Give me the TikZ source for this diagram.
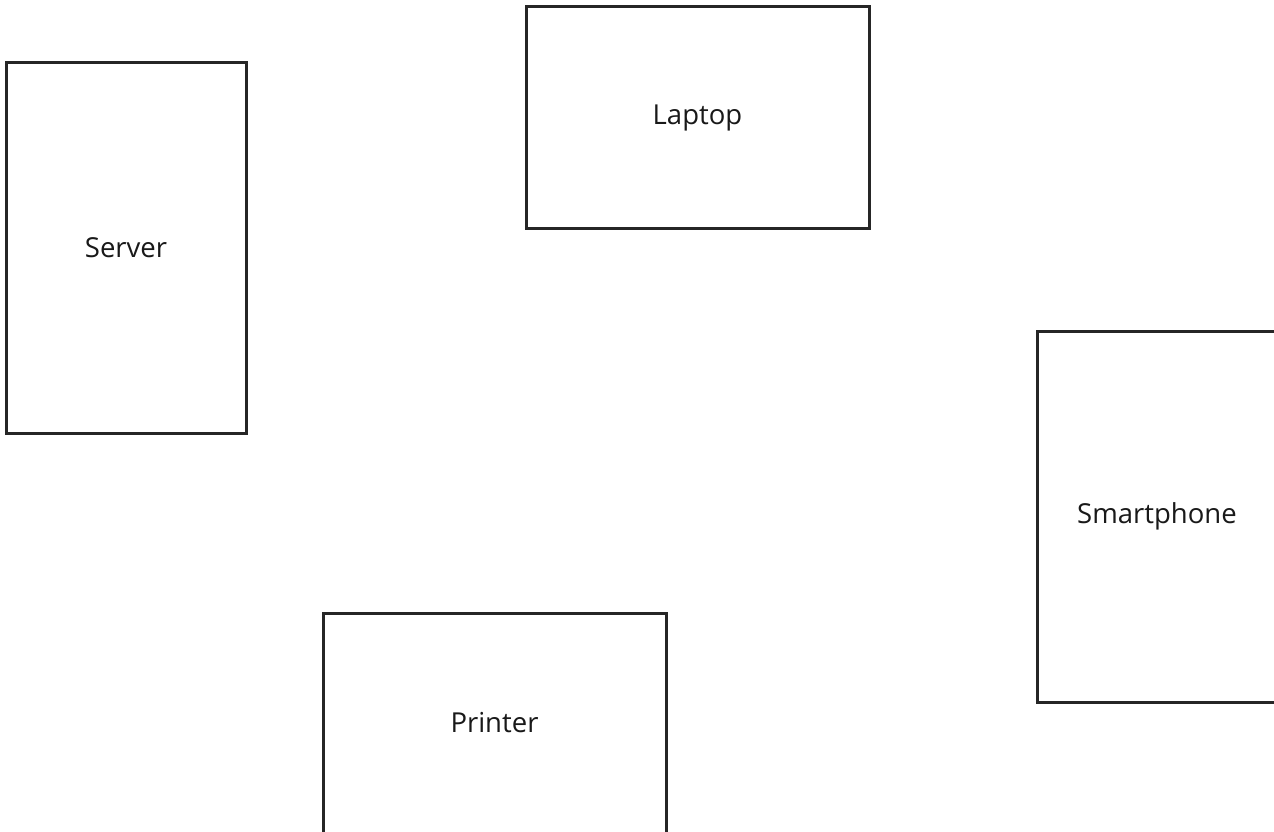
\documentclass[tikz,border=0pt]{standalone}
\usepackage{fontspec}
\setmainfont{Open Sans}
\begin{document}
\begin{tikzpicture}[x=1pt,y=-1pt,
  devbox/.style={draw=black!85,line width=3pt,fill=white,inner sep=0pt,font=\fontsize{27.5}{32}\selectfont,text=black!90}]
\useasboundingbox (0,0) rectangle (1274,832);
\clip (0,0) rectangle (1274,832);
\node[devbox,minimum width=240pt,minimum height=370pt] (server) at (126,248) {\raisebox{-3pt}{Server}};
\node[devbox,minimum width=343pt,minimum height=221pt] (laptop) at (697.5,117.5) {\raisebox{-3pt}{Laptop}};
\node[devbox,minimum width=240pt,minimum height=371pt] (phone) at (1157,516.5) {\raisebox{-3pt}{Smartphone}};
\node[devbox,minimum width=343pt,minimum height=220pt] (printer) at (494.5,723) {\raisebox{-3pt}{Printer}};
\end{tikzpicture}
\end{document}
